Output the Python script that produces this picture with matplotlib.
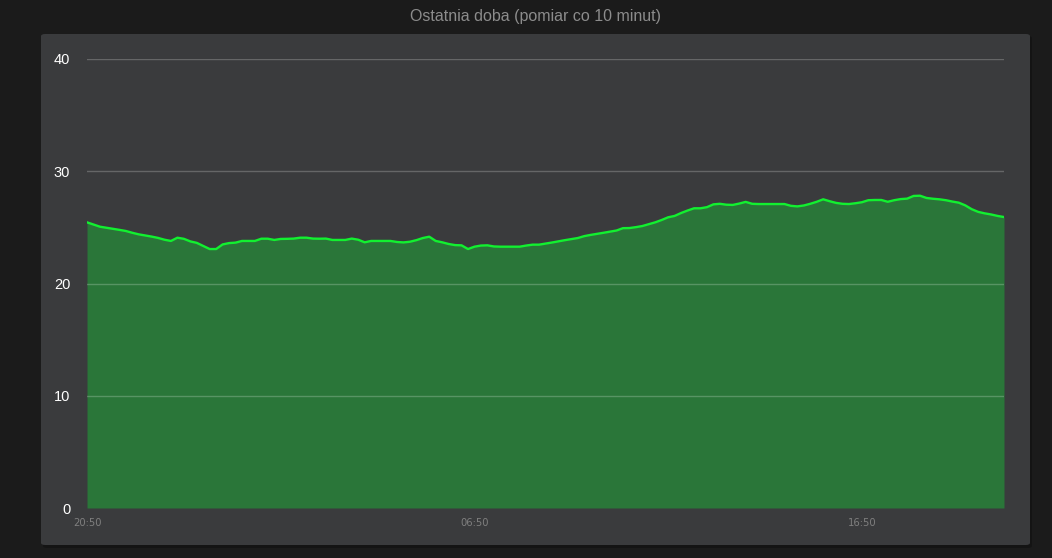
import matplotlib.pyplot as plt
from matplotlib.patches import FancyBboxPatch
import numpy as np

# temperature readings every 10 minutes, starting 20:50
temps = [
    25.45, 25.25, 25.06, 24.97, 24.88, 24.78, 24.68, 24.52, 24.38, 24.28,
    24.18, 24.06, 23.90, 23.79, 24.08, 23.98, 23.75, 23.62, 23.35, 23.07,
    23.07, 23.48, 23.60, 23.64, 23.79, 23.79, 23.79, 23.99, 23.99, 23.88,
    23.97, 23.98, 24.00, 24.08, 24.08, 24.00, 23.99, 24.00, 23.88, 23.88,
    23.88, 24.00, 23.90, 23.67, 23.79, 23.79, 23.79, 23.79, 23.70, 23.66,
    23.72, 23.86, 24.05, 24.17, 23.79, 23.67, 23.52, 23.42, 23.40, 23.07,
    23.28, 23.38, 23.40, 23.30, 23.28, 23.28, 23.28, 23.28, 23.38, 23.46,
    23.46, 23.55, 23.65, 23.76, 23.86, 23.95, 24.05, 24.22, 24.33, 24.42,
    24.52, 24.62, 24.72, 24.93, 24.94, 25.02, 25.12, 25.28, 25.45, 25.66,
    25.90, 26.02, 26.28, 26.50, 26.70, 26.70, 26.80, 27.05, 27.10, 27.02,
    27.00, 27.12, 27.27, 27.10, 27.08, 27.08, 27.08, 27.08, 27.08, 26.92,
    26.87, 26.95, 27.10, 27.28, 27.50, 27.33, 27.18, 27.10, 27.08, 27.15,
    27.24, 27.42, 27.44, 27.44, 27.28, 27.42, 27.52, 27.56, 27.80, 27.82,
    27.62, 27.55, 27.50, 27.42, 27.30, 27.20, 26.96, 26.62, 26.38, 26.25,
    26.15, 26.02, 25.92,
]
tick_labels = ["20:50", "06:50", "16:50"]
tick_minutes = [0, 600, 1200]
y_ticks = [0, 10, 20, 30, 40]

W, H = 1052, 558
fig = plt.figure(figsize=(W / 100, H / 100), dpi=100)
fig.patch.set_facecolor('#1b1b1b')

# panel with a small shadow
shadow = FancyBboxPatch((43 / W, 1 - 548 / H), 989 / W, 512 / H,
                        boxstyle="round,pad=0,rounding_size=0.004",
                        transform=fig.transFigure, fc='#141414', ec='none', zorder=-2)
panel = FancyBboxPatch((41 / W, 1 - 545 / H), 989 / W, 511 / H,
                       boxstyle="round,pad=0,rounding_size=0.004",
                       transform=fig.transFigure, fc='#3a3b3d', ec='none', zorder=-1)
fig.patches.extend([shadow, panel])

fig.text(536 / W, 1 - 17 / H, "Ostatnia doba (pomiar co 10 minut)",
         color='#8c8c8c', fontsize=11.5, ha='center', va='center',
         family='Liberation Sans')

ax = fig.add_axes([87 / W, 50 / H, (1004 - 87) / W, (508 - 59) / H])
ax.set_zorder(2)
ax.set_facecolor('none')

x = np.arange(len(temps)) * 10
ax.fill_between(x, 0, temps, color='#2a7639', lw=0, zorder=1)
for y in y_ticks[1:]:
    ax.axhline(y, color='white', alpha=0.22, lw=1, zorder=2)
ax.plot(x, temps, color='#12f030', lw=1.7, zorder=3)

ax.set_xlim(x[0], x[-1])
ax.set_ylim(0, 40)
ax.set_yticks(y_ticks)
ax.set_yticklabels([str(v) for v in y_ticks], color='white', fontsize=10.5,
                   family='Liberation Sans')
ax.set_xticks(tick_minutes)
ax.set_xticklabels(tick_labels, color='#7f7f7f', fontsize=7.2,
                   family='DejaVu Sans')
ax.tick_params(axis='both', length=0)
ax.tick_params(axis='y', pad=12)
ax.tick_params(axis='x', pad=7)
for s in ax.spines.values():
    s.set_visible(False)

fig.savefig('out.png', dpi=100, facecolor=fig.get_facecolor())
